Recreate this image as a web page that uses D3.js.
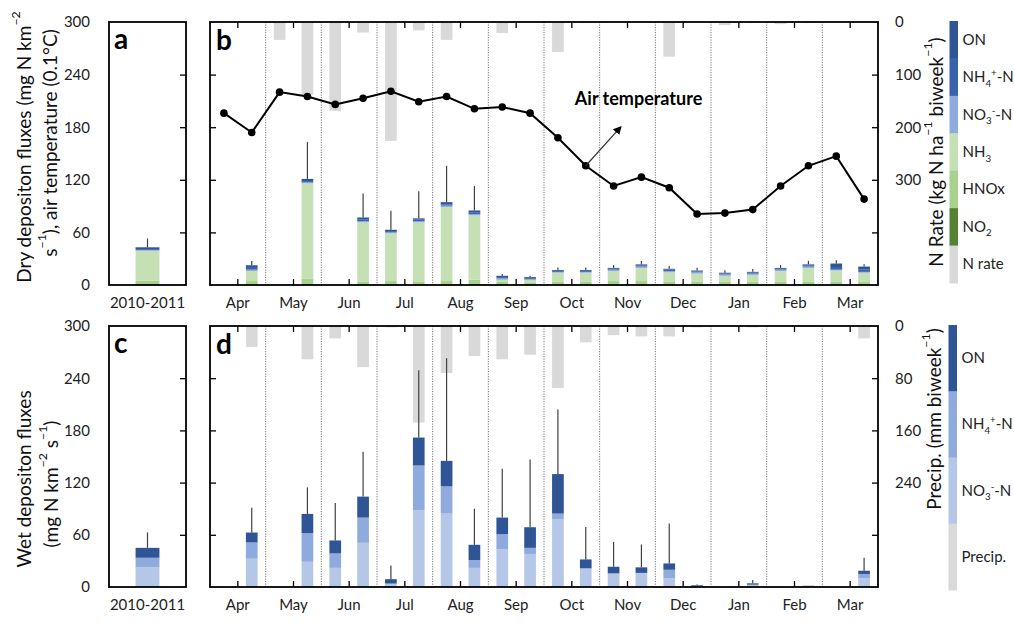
<!DOCTYPE html>
<html>
<head>
<meta charset="utf-8">
<script src="https://cdn.jsdelivr.net/npm/d3@7"></script>
<style>
  body { margin: 0; background: #fff; }
  svg { font-family: Lato, "Open Sans", sans-serif; }
</style>
</head>
<body>
<div id="chart"></div>
<script>
// biweekly slots, Apr 2010 - Mar 2011
const months = ["Apr", "May", "Jun", "Jul", "Aug", "Sep", "Oct", "Nov", "Dec", "Jan", "Feb", "Mar"];
const slots = months.flatMap(m => [m + " 1", m + " 2"]);
const years = ["2010-2011"];

// air temperature (0.1 °C)
const airTemp = [196, 174, 220, 215, 206, 213, 221, 209, 215, 201, 203, 196,
                 168, 136, 113, 123, 111, 81, 82, 86, 113, 136, 147, 98];
// N rate (kg N ha-1 biweek-1), drawn from the top
const nRate = [0, 0, 34, 139, 169, 20, 226, 16, 34, 0, 21, 0,
               57, 2, 0, 0, 66, 0, 6, 2, 4, 2, 0, 0];
// precipitation (mm biweek-1), drawn from the top
const precip = [0, 32, 0, 51, 19, 63, 2, 148, 72, 46, 51, 44,
                95, 25, 14, 16, 16, 2, 0, 2, 0, 1, 0, 19];

// dry deposition fluxes (mg N km-2 s-1)
const dryNO2  = [0, 0.5, 0, 1, 0, 0.5, 0.5, 0.5, 0.5, 1, 0.5, 0.5, 0.5, 0.5, 0.5, 0.5, 0.5, 0.5, 0.5, 0.5, 0.5, 0.5, 0.5, 0.5];
const dryHNOx = [0, 4, 0, 6, 0, 3, 4, 3, 4, 5, 3, 2.5, 3, 3, 4, 4, 3, 3, 3, 3, 3, 3, 3, 3];
const dryNH3  = [0, 11.5, 0, 109, 0, 68, 54.5, 68, 84.5, 73.5, 2.5, 2.5, 10.5, 10.5, 11.5, 15, 11, 9.5, 7, 8, 12.5, 16, 13, 10.5];
const dryNO3  = [0, 1.5, 0, 1, 0, 1.5, 1, 1.5, 1.5, 1.5, 1.5, 1.5, 1, 1, 1.5, 1.5, 1.5, 1.5, 1.5, 1.5, 1.5, 1.5, 1, 1];
const dryNH4  = [0, 2, 0, 1.5, 0, 1.5, 1.5, 1.5, 1.5, 1.5, 1.5, 1, 1, 1, 1, 1.5, 1.5, 1, 1, 1, 1, 1.5, 3, 2.5];
const dryON   = [0, 3, 0, 2.5, 0, 2.5, 1.5, 1.5, 2.5, 2.5, 1.5, 1, 1, 1, 1, 1, 1, 1, 1, 1, 1, 1, 4, 3.5];
const dryErr  = [0, 5, 0, 42, 0, 27.5, 21.7, 30.8, 41.5, 28, 2, 1.5, 3, 3, 3.3, 4, 3.2, 3.3, 2.7, 3.2, 3.3, 4, 3.6, 2.6];

// wet deposition fluxes (mg N km-2 s-1)
const wetNO3 = [0, 32.5, 0, 29, 22, 50.8, 3.5, 88.2, 84.4, 22, 43.2, 38, 77.9, 21, 15.2, 15.7, 10, 1.2, 0, 2, 0, 1, 0, 10];
const wetNH4 = [0, 18.7, 0, 32.9, 16.6, 29, 0.5, 51.5, 31.3, 9, 17.5, 7, 6.5, 0.5, 0.5, 0.5, 9.8, 0.3, 0, 0.7, 0, 0.3, 0, 5];
const wetON  = [0, 11.4, 0, 22.1, 14.9, 24.1, 5, 32.1, 29.3, 17.5, 19.1, 23.7, 45.4, 10.2, 7.6, 6.4, 7.3, 0.8, 0, 1.5, 0, 0.2, 0, 3.7];
const wetErr = [0, 28.4, 0, 30.5, 43.1, 51.5, 15.6, 77.2, 118, 41.5, 56.2, 77.9, 74.1, 37.3, 28.6, 26.3, 45.9, 0.7, 0, 3.8, 0, 0, 0, 14.9];

// annual means 2010-2011
const dryAnnual = { NO2: [1], HNOx: [4], NH3: [34], NO3: [1], NH4: [1], ON: [2], err: [10] };
const wetAnnual = { NO3: [22.5], NH4: [11.1], ON: [11.4], err: [17.7] };

const dryKeys = ["NO2", "HNOx", "NH3", "NO3", "NH4", "ON"];
const wetKeys = ["NO3", "NH4", "ON"];
const dryColor = { NO2: "#548235", HNOx: "#a9d18e", NH3: "#c5e0b4", NO3: "#8faadc", NH4: "#3862ae", ON: "#2f5597" };
const wetColor = { NO3: "#b4c7e7", NH4: "#8faadc", ON: "#2f5597" };
const grey = "#d9d9d9";

const width = 1014, height = 623;
const svg = d3.select("#chart").append("svg").attr("width", width).attr("height", height);

// panel boxes
const A = { x0: 109, x1: 186 }, B = { x0: 210, x1: 878 };
const T = { y0: 22, y1: 285 }, L = { y0: 326, y1: 587 };

const xSlot = d3.scaleBand().domain(slots).range([B.x0, B.x1]);
const xMonth = d3.scaleBand().domain(months).range([B.x0, B.x1]);
const xYear = d3.scaleBand().domain(years).range([A.x0, A.x1]);
const yDry = d3.scaleLinear().domain([0, 300]).range([T.y1, T.y0]);
const yRate = d3.scaleLinear().domain([0, 500]).range([T.y0, T.y1]);
const yWet = d3.scaleLinear().domain([0, 300]).range([L.y1, L.y0]);
const yPrecip = d3.scaleLinear().domain([0, 400]).range([L.y0, L.y1]);

const bw = xSlot.bandwidth() * 0.42;
const bwYear = xYear.bandwidth() * 0.31;
const cx = s => xSlot(s) + xSlot.bandwidth() / 2;
const cy = y => xYear(y) + xYear.bandwidth() / 2;

const dryRows = slots.map((s, i) => ({ key: s, NO2: dryNO2[i], HNOx: dryHNOx[i], NH3: dryNH3[i], NO3: dryNO3[i], NH4: dryNH4[i], ON: dryON[i], err: dryErr[i] }));
const wetRows = slots.map((s, i) => ({ key: s, NO3: wetNO3[i], NH4: wetNH4[i], ON: wetON[i], err: wetErr[i] }));
const dryYear = years.map((y, i) => ({ key: y, NO2: dryAnnual.NO2[i], HNOx: dryAnnual.HNOx[i], NH3: dryAnnual.NH3[i], NO3: dryAnnual.NO3[i], NH4: dryAnnual.NH4[i], ON: dryAnnual.ON[i], err: dryAnnual.err[i] }));
const wetYear = years.map((y, i) => ({ key: y, NO3: wetAnnual.NO3[i], NH4: wetAnnual.NH4[i], ON: wetAnnual.ON[i], err: wetAnnual.err[i] }));

function stackedBars(g, rows, keys, colors, xc, w, y) {
  const series = d3.stack().keys(keys)(rows);
  g.selectAll(null).data(series).enter().append("g")
    .attr("fill", d => colors[d.key])
    .selectAll("rect").data(d => d).enter().append("rect")
    .attr("x", d => xc(d.data.key) - w / 2)
    .attr("width", w)
    .attr("y", d => y(d[1]))
    .attr("height", d => Math.max(0, y(d[0]) - y(d[1])));
  // error bars, upper side only
  const tot = d => d3.sum(keys, k => d[k]);
  g.selectAll(null).data(rows.filter(d => d.err > 0)).enter().append("line")
    .attr("x1", d => xc(d.key)).attr("x2", d => xc(d.key))
    .attr("y1", d => y(tot(d))).attr("y2", d => y(tot(d) + d.err))
    .attr("stroke", "#404040").attr("stroke-width", 1.2);
}

function greyBars(g, values, y) {
  g.selectAll(null).data(slots.filter((s, i) => values[i] > 0)).enter().append("rect")
    .attr("x", s => cx(s) - bw / 2)
    .attr("width", bw)
    .attr("y", y(0))
    .attr("height", s => y(values[slots.indexOf(s)]) - y(0))
    .attr("fill", grey);
}

function monthLines(g, P) {
  g.selectAll(null).data(months.slice(1)).enter().append("line")
    .attr("x1", m => xMonth(m)).attr("x2", m => xMonth(m))
    .attr("y1", P.y0).attr("y2", P.y1)
    .attr("stroke", "#666").attr("stroke-width", 0.9)
    .attr("stroke-dasharray", "1.2,1.3");
}

function frame(P, X) {
  svg.append("rect").attr("x", X.x0).attr("y", P.y0)
    .attr("width", X.x1 - X.x0).attr("height", P.y1 - P.y0)
    .attr("fill", "none").attr("stroke", "#000").attr("stroke-width", 1.8);
}

function innerTicks(g, axis, tx, ty) {
  const a = g.append("g").attr("transform", `translate(${tx},${ty})`).call(axis);
  a.select(".domain").remove();
  a.selectAll("line").attr("stroke", "#000").attr("stroke-width", 1.3);
  return a;
}

function labelAxis(axis, tx, ty) {
  const a = svg.append("g").attr("transform", `translate(${tx},${ty})`).call(axis);
  a.select(".domain").remove();
  a.selectAll("text").attr("font-size", 15).attr("fill", "#222").attr("font-family", "Lato, sans-serif");
  return a;
}

// rich text with sub/superscripts: parts = [[text, "n"|"sub"|"sup"], ...]
function rich(t, parts, size) {
  let shift = 0;
  parts.forEach(([s, k]) => {
    const target = k === "sub" ? size * 0.3 : k === "sup" ? -size * 0.4 : 0;
    t.append("tspan").attr("dy", target - shift)
      .attr("font-size", k === "n" ? size : size * 0.65).text(s);
    shift = target;
  });
}

function panel(P, isTop) {
  const g = svg.append("g");
  if (isTop) greyBars(g, nRate, yRate); else greyBars(g, precip, yPrecip);
  monthLines(g, P);
  if (isTop) {
    stackedBars(g, dryRows, dryKeys, dryColor, cx, bw, yDry);
    stackedBars(g, dryYear, dryKeys, dryColor, cy, bwYear, yDry);
  } else {
    stackedBars(g, wetRows, wetKeys, wetColor, cx, bw, yWet);
    stackedBars(g, wetYear, wetKeys, wetColor, cy, bwYear, yWet);
  }
  frame(P, A); frame(P, B);

  const yL = isTop ? yDry : yWet;
  const yR = isTop ? yRate : yPrecip;
  const rStep = isTop ? 100 : 80;
  // inner ticks
  innerTicks(svg, d3.axisLeft(yL).tickValues([60, 120, 180, 240]).tickSize(6).tickFormat(""), A.x1, 0);
  innerTicks(svg, d3.axisRight(yL).tickValues([60, 120, 180, 240]).tickSize(6).tickFormat(""), B.x0, 0);
  innerTicks(svg, d3.axisLeft(yR).tickValues([1, 2, 3, 4].map(k => k * rStep)).tickSize(6).tickFormat(""), B.x1, 0);
  innerTicks(svg, d3.axisTop(xMonth).tickSize(6).tickFormat(""), 0, P.y1);
  innerTicks(svg, d3.axisBottom(xMonth).tickSize(6).tickFormat(""), 0, P.y0);

  // labels
  labelAxis(d3.axisLeft(yL).tickValues(d3.range(0, 301, 60)).tickSize(0).tickPadding(19), A.x0, 0);
  labelAxis(d3.axisRight(yR).tickValues([0, 1, 2, 3].map(k => k * rStep)).tickSize(0).tickPadding(17), B.x1, 0);
  labelAxis(d3.axisBottom(xMonth).tickSize(0).tickPadding(12), 0, P.y1);
  labelAxis(d3.axisBottom(xYear).tickSize(0).tickPadding(12), 0, P.y1);
}

panel(T, true);
panel(L, false);

// air temperature line
const line = d3.line().x((d, i) => cx(slots[i])).y(d => yDry(d));
svg.append("path").datum(airTemp).attr("d", line)
  .attr("fill", "none").attr("stroke", "#000").attr("stroke-width", 2);
svg.selectAll(null).data(airTemp).enter().append("circle")
  .attr("cx", (d, i) => cx(slots[i])).attr("cy", d => yDry(d)).attr("r", 3.8).attr("fill", "#000");

// annotation
svg.append("defs").append("marker").attr("id", "arr")
  .attr("viewBox", "0 0 10 10").attr("refX", 8).attr("refY", 5)
  .attr("markerWidth", 7).attr("markerHeight", 7).attr("orient", "auto")
  .append("path").attr("d", "M0,0L10,5L0,10z").attr("fill", "#000");
const ai = slots.indexOf("Oct 2");
svg.append("line")
  .attr("x1", cx("Oct 2")).attr("y1", yDry(airTemp[ai]))
  .attr("x2", cx("Nov 1") + 7).attr("y2", yDry(180))
  .attr("stroke", "#333").attr("stroke-width", 1.2).attr("marker-end", "url(#arr)");
svg.append("text").attr("x", xSlot("Oct 2") + 3).attr("y", yDry(213)).attr("dy", "0.35em")
  .attr("font-size", 18).attr("font-weight", "bold").text("Air temperature");

// panel letters
[["a", A.x0 + 5, T.y0 + 27], ["b", B.x0 + 6, T.y0 + 28], ["c", A.x0 + 5, L.y0 + 27], ["d", B.x0 + 6, L.y0 + 28]]
  .forEach(([s, x, y]) => svg.append("text").attr("x", x).attr("y", y)
    .attr("font-size", 28).attr("font-weight", "bold").text(s));

// axis titles
function vTitle(x, y, parts, size) {
  const t = svg.append("text").attr("transform", `translate(${x},${y}) rotate(-90)`)
    .attr("text-anchor", "middle").attr("dominant-baseline", "central").attr("fill", "#111");
  rich(t, parts, size);
}
vTitle(23, 147, [["Dry depositon fluxes (mg N km", "n"], ["−2", "sup"]], 19);
vTitle(49, 143, [["s", "n"], ["−1", "sup"], ["), air temperature (0.1°C)", "n"]], 19);
vTitle(23, 479, [["Wet depositon fluxes", "n"]], 19);
vTitle(50, 484, [["(mg N km", "n"], ["−2", "sup"], [" s", "n"], ["−1", "sup"], [")", "n"]], 19);
vTitle(935, 152, [["N Rate (kg N ha", "n"], ["−1", "sup"], [" biweek", "n"], ["−1", "sup"], [")", "n"]], 19);
vTitle(933, 419, [["Precip. (mm biweek", "n"], ["−1", "sup"], [")", "n"]], 19);

// legends
const legTop = [
  { c: dryColor.ON, t: [["ON", "n"]] },
  { c: dryColor.NH4, t: [["NH", "n"], ["4", "sub"], ["+", "sup"], ["-N", "n"]] },
  { c: dryColor.NO3, t: [["NO", "n"], ["3", "sub"], ["-", "sup"], ["-N", "n"]] },
  { c: dryColor.NH3, t: [["NH", "n"], ["3", "sub"]] },
  { c: dryColor.HNOx, t: [["HNOx", "n"]] },
  { c: dryColor.NO2, t: [["NO", "n"], ["2", "sub"]] },
  { c: grey, t: [["N rate", "n"]] }
];
const legBot = [
  { c: wetColor.ON, t: [["ON", "n"]] },
  { c: wetColor.NH4, t: [["NH", "n"], ["4", "sub"], ["+", "sup"], ["-N", "n"]] },
  { c: wetColor.NO3, t: [["NO", "n"], ["3", "sub"], ["-", "sup"], ["-N", "n"]] },
  { c: grey, t: [["Precip.", "n"]] }
];
function legend(items, x, y0, y1) {
  const h = (y1 - y0) / items.length;
  items.forEach((it, i) => {
    svg.append("rect").attr("x", x).attr("y", y0 + i * h).attr("width", 8.5).attr("height", h + 0.5).attr("fill", it.c);
    const t = svg.append("text").attr("x", x + 13).attr("y", y0 + i * h + h / 2 + 5).attr("fill", "#222");
    rich(t, it.t, 15);
  });
}
legend(legTop, 949.5, 21, 283);
legend(legBot, 948.5, 325, 590);
</script>
</body>
</html>
